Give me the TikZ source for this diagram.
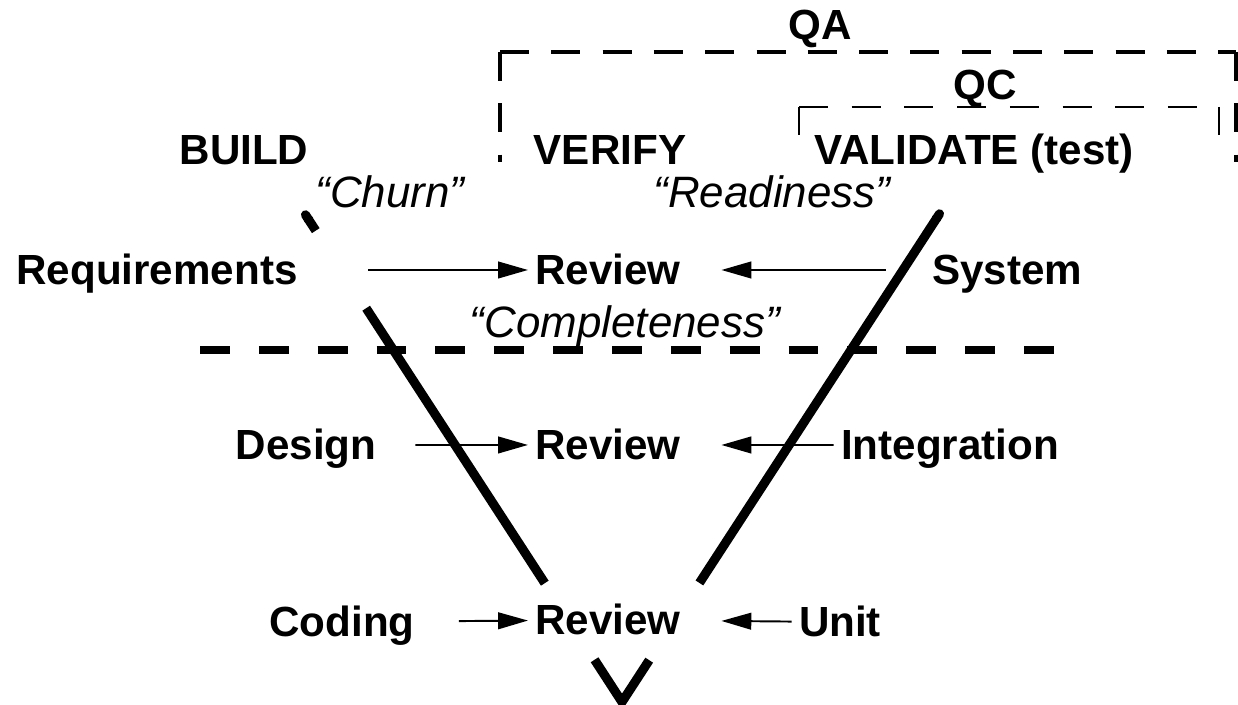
\documentclass[tikz,border=0pt]{standalone}
\usepackage{fontspec}
\setmainfont{Liberation Sans}
\usetikzlibrary{arrows.meta,calc,positioning}

\tikzset{
  stage/.style={font=\bfseries\fontsize{24}{28}\selectfont, text height=17pt, text depth=0pt, inner sep=4pt},
  quote/.style={font=\itshape\fontsize{25}{30}\selectfont, text height=18pt, text depth=0pt, inner sep=2pt},
  flow/.style={-{Triangle[length=17pt,width=9.5pt]}, line width=1.1pt},
  vee/.style={line width=5.2pt},
  split/.style={line width=5pt, dash pattern=on 17pt off 16.5pt},
  qabox/.style={line width=1.8pt, dash pattern=on 16.5pt off 12.7pt},
  qcbox/.style={line width=1.2pt, dash pattern=on 16.5pt off 13.5pt}
}

\begin{document}
\begin{tikzpicture}[x=0.02cm,y=-0.02cm,node distance=3.5cm]
    \useasboundingbox (0,0) rectangle (1238,705);
    % headings
    \node[stage] (qa) at (820,25) {QA};
    \node[stage] (qc) at (985,85) {QC};
    \node[stage] (build) at (244,150) {BUILD};
    \node[stage] (verify) at (610,150) {VERIFY};
    \node[stage] (valid) at (974,150) {VALIDATE (test)};
    \node[quote] (churn) at (390,192) {“Churn”};
    \node[quote] (ready) at (772,192) {“Readiness”};
    \node[quote] (complete) at (625,322) {“Completeness”};
    % the three levels
    \node[stage] (req) at (157,270) {Requirements};
    \node[stage] (rev1) at (608,270) {Review};
    \node[stage] (sys) at (1007,270) {System};
    \node[stage] (rev2) [below of=rev1] {Review};
    \node[stage] (design) at (306,445) {Design};
    \node[stage] (integ) at (950,445) {Integration};
    \node[stage] (rev3) [below of=rev2] {Review};
    \node[stage] (coding) at (342,622) {Coding};
    \node[stage] (unit) at (840,622) {Unit};
    \path[flow] (req) edge[shorten <=36pt] (rev1)
      (sys) edge[shorten <=22pt, shorten >=19pt] (rev1)
      (design) edge[shorten <=18pt] (rev2)
      (integ) edge[shorten >=19pt] (rev2)
      (coding) edge[shorten <=21pt] (rev3)
      (unit) edge[shorten >=19pt] (rev3);
    % QA / QC brackets
    \coordinate (qatl) at (500,52);
    \coordinate (qabl) at (500,162);
    \coordinate (qatr) at (1236,52);
    \coordinate (qabr) at (1236,162);
    \draw[qabox] (qatl) -- (qabl) (qatl) -- (qatr) (qatr) -- (qabr);
    \coordinate (qctl) at (799,107);
    \coordinate (qcbl) at (799,135);
    \coordinate (qctr) at (1219,107);
    \coordinate (qcbr) at (1219,135);
    \draw[qcbox] (qctl) -- (qcbl) (qctl) -- (qctr) (qctr) -- (qcbr);
    % split line
    \coordinate (sepl) at (200,350);
    \coordinate (sepr) at (1058,350);
    \draw[split] (sepl) -- (sepr);
    % the V
    \coordinate (vtl) at (303,211);
    \coordinate (vtr) at (942,210);
    \coordinate (vbot) at (622,702);
    \draw[vee, {Round Cap}-] (vtl) -- ($(vtl)!0.04!(vbot)$);
    \draw[vee] ($(vtl)!0.198!(vbot)$) -- ($(vtl)!0.758!(vbot)$);
    \draw[vee, {Round Cap}-] (vtr) -- ($(vtr)!0.758!(vbot)$);
    \draw[vee] ($(vtl)!0.914!(vbot)$) -- (vbot) -- ($(vtr)!0.915!(vbot)$);
\end{tikzpicture}
\end{document}
